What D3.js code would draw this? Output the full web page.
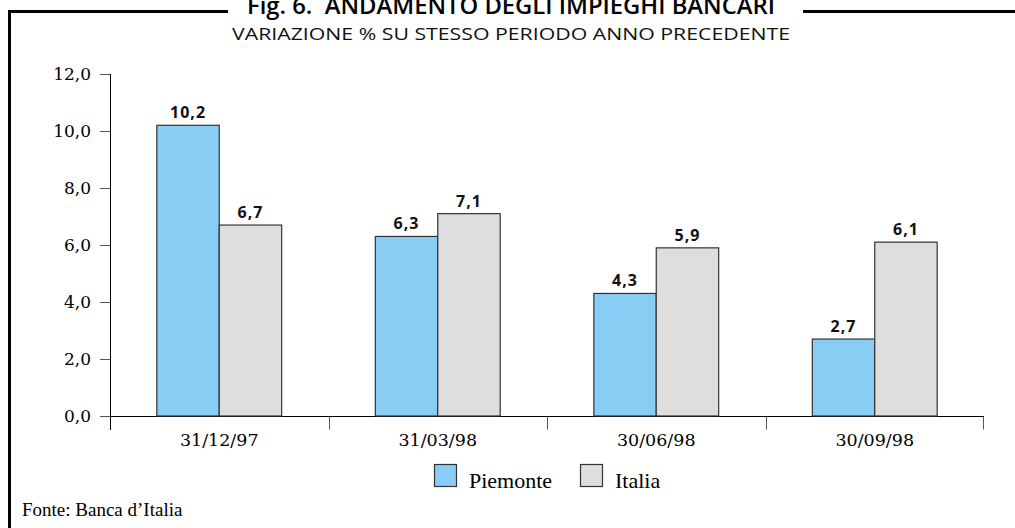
<!DOCTYPE html>
<html>
<head>
<meta charset="utf-8">
<script src="https://cdn.jsdelivr.net/npm/d3@7"></script>
<style>
  body { margin: 0; background: #fff; }
  svg { display: block; }
</style>
</head>
<body>
<svg width="1015" height="528"></svg>
<script>
// chart data
var periods = ["31/12/97", "31/03/98", "30/06/98", "30/09/98"];
var seriesNames = ["Piemonte", "Italia"];
var piemonte = [10.2, 6.3, 4.3, 2.7];
var italia = [6.7, 7.1, 5.9, 6.1];
var yTicks = [0, 2, 4, 6, 8, 10, 12];

var colors = { "Piemonte": "#87cdf4", "Italia": "#dedede" };

var svg = d3.select("svg"),
    width = +svg.attr("width"),
    height = +svg.attr("height");

var margin = { left: 110, right: 31, top: 74, bottom: 112 };

var x = d3.scaleBand()
    .domain(periods)
    .range([margin.left, width - margin.right]);

var x1 = d3.scaleBand()
    .domain(seriesNames)
    .range([0, x.bandwidth()])
    .paddingInner(0)
    .paddingOuter(0.75);

var y = d3.scaleLinear()
    .domain([0, 12])
    .range([height - margin.bottom, margin.top]);

var fmt = function(v) { return d3.format(".1f")(v).replace(".", ","); };

// frame
svg.append("path")
    .attr("d", "M9.5,528V11.5H228 M803,11.5H1015")
    .attr("fill", "none")
    .attr("stroke", "#000")
    .attr("stroke-width", 3);

// titles
svg.append("text")
    .attr("x", 511).attr("y", 14)
    .attr("text-anchor", "middle")
    .style("font", "600 23px 'Open Sans'")
    .style("white-space", "pre")
    .attr("textLength", 528)
    .attr("lengthAdjust", "spacingAndGlyphs")
    .text("Fig. 6.  ANDAMENTO DEGLI IMPIEGHI BANCARI");

svg.append("text")
    .attr("x", 511).attr("y", 40)
    .attr("text-anchor", "middle")
    .style("font", "17px 'Open Sans'")
    .attr("fill", "#111")
    .attr("textLength", 558)
    .attr("lengthAdjust", "spacingAndGlyphs")
    .text("VARIAZIONE % SU STESSO PERIODO ANNO PRECEDENTE");

// y axis
var yAxis = svg.append("g")
    .attr("transform", "translate(" + margin.left + ",0)")
    .call(d3.axisLeft(y).tickValues(yTicks).tickSize(10).tickPadding(9).tickFormat(fmt));
yAxis.select(".domain").attr("d", "M0.5," + y(12) + "V" + (y(0) + 14));
yAxis.selectAll(".tick line").attr("stroke", "#555");
yAxis.selectAll("text")
    .style("font", "17px 'DejaVu Serif'")
    .attr("fill", "#000");

// x axis baseline and boundary ticks
var x0 = y(0) + 0.5;
svg.append("line")
    .attr("x1", margin.left).attr("x2", width - margin.right)
    .attr("y1", x0).attr("y2", x0)
    .attr("stroke", "#000");

svg.append("g").selectAll("line")
    .data(periods.slice(1).concat(["end"]))
    .enter().append("line")
    .attr("x1", function(d) { return d === "end" ? width - margin.right - 0.5 : Math.round(x(d)) + 0.5; })
    .attr("x2", function(d) { return d === "end" ? width - margin.right - 0.5 : Math.round(x(d)) + 0.5; })
    .attr("y1", x0).attr("y2", x0 + 13)
    .attr("stroke", "#555");

svg.append("g").selectAll("text")
    .data(periods)
    .enter().append("text")
    .attr("x", function(d) { return x(d) + x.bandwidth() / 2; })
    .attr("y", y(0) + 30)
    .attr("text-anchor", "middle")
    .style("font", "17.5px 'DejaVu Serif'")
    .text(function(d) { return d; });

// bars
var rows = periods.map(function(p, i) {
  return { period: p, values: [
    { name: "Piemonte", value: piemonte[i] },
    { name: "Italia", value: italia[i] }
  ] };
});

var group = svg.append("g").selectAll("g")
    .data(rows)
    .enter().append("g")
    .attr("transform", function(d) { return "translate(" + x(d.period) + ",0)"; });

group.selectAll("rect")
    .data(function(d) { return d.values; })
    .enter().append("rect")
    .attr("x", function(d) { return x1(d.name); })
    .attr("y", function(d) { return y(d.value); })
    .attr("width", x1.bandwidth())
    .attr("height", function(d) { return y(0) - y(d.value); })
    .attr("fill", function(d) { return colors[d.name]; })
    .attr("stroke", "#333")
    .attr("stroke-width", 1.2);

group.selectAll("text")
    .data(function(d) { return d.values; })
    .enter().append("text")
    .attr("x", function(d) { return x1(d.name) + x1.bandwidth() / 2; })
    .attr("y", function(d) { return y(d.value) - 7; })
    .attr("text-anchor", "middle")
    .style("font", "bold 16px 'Open Sans'")
    .style("letter-spacing", "1px")
    .attr("fill", "#111")
    .text(function(d) { return fmt(d.value); });

// legend
var legendX = [434, 580];
var legend = svg.append("g").selectAll("g")
    .data(seriesNames)
    .enter().append("g")
    .attr("transform", function(d, i) { return "translate(" + legendX[i] + ",464)"; });

legend.append("rect")
    .attr("x", 0.5).attr("y", 0.5)
    .attr("width", 22).attr("height", 22)
    .attr("fill", function(d) { return colors[d]; })
    .attr("stroke", "#333")
    .attr("stroke-width", 1.2);

legend.append("text")
    .attr("x", 35).attr("y", 24)
    .style("font", "22px 'Liberation Serif'")
    .text(function(d) { return d; });

// source
svg.append("text")
    .attr("x", 22).attr("y", 516)
    .style("font", "19px 'Liberation Serif'")
    .text("Fonte: Banca d\u2019Italia");
</script>
</body>
</html>
